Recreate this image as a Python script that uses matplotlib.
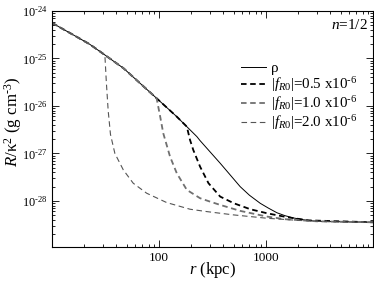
import numpy as np
import matplotlib
matplotlib.use("Agg")
import matplotlib.pyplot as plt
from matplotlib.ticker import FixedLocator, LogLocator, NullFormatter, FixedFormatter

plt.rcParams['font.family'] = ['Liberation Serif', 'DejaVu Serif']
plt.rcParams['mathtext.fontset'] = 'custom'
plt.rcParams['mathtext.rm'] = 'Liberation Serif'
plt.rcParams['mathtext.it'] = 'Liberation Serif:italic'
plt.rcParams['mathtext.bf'] = 'Liberation Serif:bold'
plt.rcParams['lines.scale_dashes'] = False

# density profile rho (log10 of g cm^-3)
rho_r = [10, 16.9, 22.5, 31.2, 46.6, 95, 146.5, 182, 226, 242, 373, 574, 700, 883, 1050,
         1267, 1500, 1816, 2300, 3006, 10000]
rho_log = [-24.25, -24.54, -24.70, -24.926, -25.206, -25.838, -26.225, -26.436, -26.646, -26.73,
           -27.206, -27.70, -27.88, -28.05, -28.15, -28.25, -28.31, -28.36, -28.40, -28.43, -28.45]

# |fR0| = 0.5e-6 (splits from rho near r ~ 180 kpc)
f05_r = [195, 209, 242, 290, 373, 500, 713, 1021, 1575, 2500, 10000]
f05_log = [-26.716, -26.926, -27.278, -27.627, -27.909, -28.049, -28.175, -28.26, -28.343, -28.41, -28.45]

# |fR0| = 1.0e-6 (splits near r ~ 95 kpc)
f10_r = [102.6, 109.6, 126.8, 146.6, 182, 242, 300, 373, 574, 1021, 1500, 3000, 10000]
f10_log = [-26.225, -26.575, -27.067, -27.417, -27.768, -27.943, -28.015, -28.084, -28.21, -28.33,
           -28.385, -28.43, -28.45]

# |fR0| = 2.0e-6 (splits near r ~ 31 kpc)
f20_r = [32.2, 33.5, 35.2, 38.7, 46.4, 57.4, 76.7, 118, 195, 280, 500, 1021, 2000, 4000, 10000]
f20_log = [-25.5, -26.1, -26.6, -27.0, -27.347, -27.627, -27.838, -28.035, -28.175, -28.225,
           -28.295, -28.365, -28.41, -28.44, -28.45]

def with_prefix(split_r, r, lg):
    # dashed curves follow rho until they split off
    n = [i for i, x in enumerate(rho_r) if x <= split_r]
    rr = [rho_r[i] for i in n] + r
    ll = [rho_log[i] for i in n] + lg
    return np.array(rr), 10.0 ** np.array(ll)

fig = plt.figure(figsize=(3.74, 2.85), dpi=100)
ax = fig.add_axes([52 / 374, 38 / 285, 321 / 374, 236 / 285])

x, y = np.array(rho_r), 10.0 ** np.array(rho_log)
ax.plot(x, y, color='black', lw=0.7, label='\u03c1')

dash = (4.0, 2.6)
x, y = with_prefix(182, f05_r, f05_log)
ax.plot(x, y, color='black', lw=1.3, dashes=dash, label=r'$|f_{R0}|$=0.5 x10$^{\text{-}6}$')
x, y = with_prefix(95, f10_r, f10_log)
ax.plot(x, y, color='#707070', lw=1.3, dashes=dash, label=r'$|f_{R0}|$=1.0 x10$^{\text{-}6}$')
x, y = with_prefix(31.2, f20_r, f20_log)
ax.plot(x, y, color='#555555', lw=0.8, dashes=dash, label=r'$|f_{R0}|$=2.0 x10$^{\text{-}6}$')

ax.set_xscale('log')
ax.set_yscale('log')
ax.set_xlim(10, 10000)
ax.set_ylim(1.07e-29, 1e-24)

ax.xaxis.set_major_locator(FixedLocator([100, 1000]))
ax.xaxis.set_major_formatter(FixedFormatter(['100', '1000']))
ax.xaxis.set_minor_locator(LogLocator(base=10, subs=np.arange(2, 10)))
ax.xaxis.set_minor_formatter(NullFormatter())

yt = [1e-28, 1e-27, 1e-26, 1e-25, 1e-24]
ax.yaxis.set_major_locator(FixedLocator(yt))
ax.yaxis.set_major_formatter(FixedFormatter([r'10$^{\text{-}28}$', r'10$^{\text{-}27}$',
                                             r'10$^{\text{-}26}$', r'10$^{\text{-}25}$',
                                             r'10$^{\text{-}24}$']))
ax.yaxis.set_minor_locator(LogLocator(base=10, subs=np.arange(2, 10), numticks=20))
ax.yaxis.set_minor_formatter(NullFormatter())

ax.tick_params(which='both', direction='in', top=True, right=True, width=0.6)
ax.tick_params(which='major', length=5)
ax.tick_params(which='minor', length=2.5)
ax.tick_params(axis='x', labelsize=9.5)
ax.tick_params(axis='y', pad=3, labelsize=8.8)
for s in ax.spines.values():
    s.set_linewidth(0.8)

ax.set_xlabel(r'$r$ (kpc)', fontsize=12, labelpad=-3)
ax.set_ylabel(r'$R$/' + '\u03ba' + r'$^2$ (g cm$^{\text{-}3}$)', fontsize=12.2)
ax.yaxis.set_label_coords(-0.086, 0.53)

ax.text(0.985, 0.97, r'$n$=1/2', transform=ax.transAxes, ha='right', va='top', fontsize=11)

ax.legend(loc='upper left', bbox_to_anchor=(0.555, 0.83), frameon=False, fontsize=10.8,
          handlelength=1.7, handletextpad=0.35, labelspacing=0.0, borderpad=0.2)

fig.savefig('out.png', dpi=100)
